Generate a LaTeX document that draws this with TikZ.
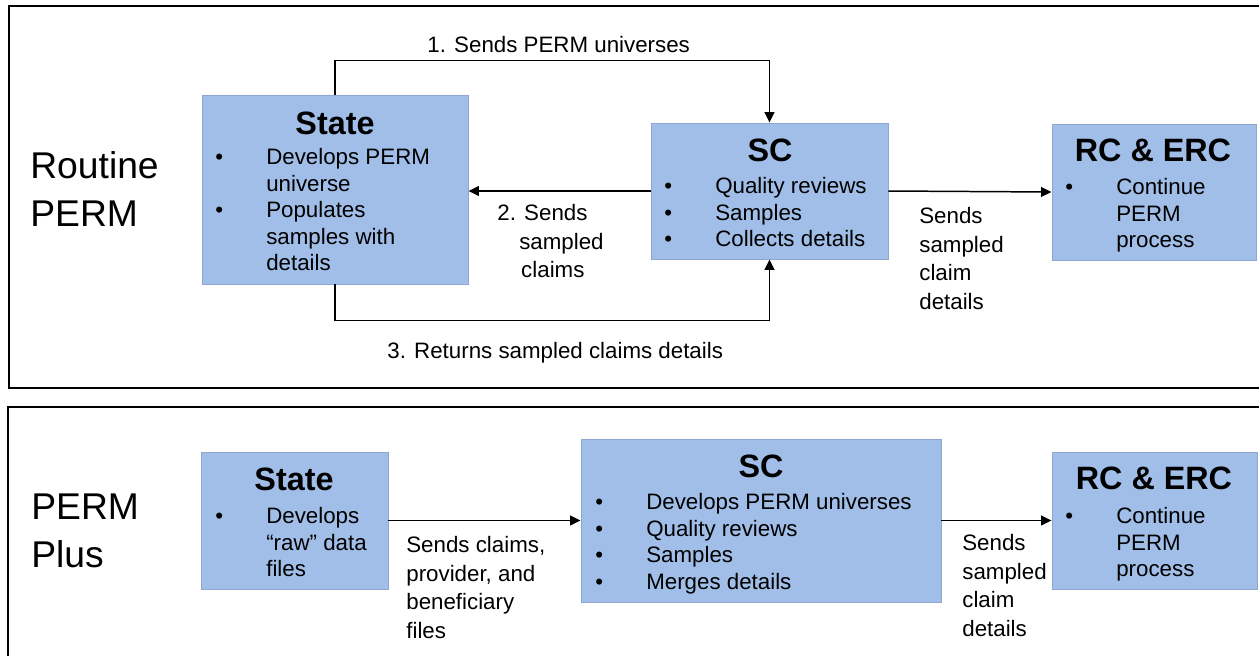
\documentclass[tikz,border=0pt]{standalone}
\usepackage{fontspec}
\setmainfont{Liberation Sans}
\usetikzlibrary{arrows.meta}
\usetikzlibrary{positioning}
\definecolor{boxblue}{RGB}{161,190,232}
\definecolor{boxedge}{RGB}{143,167,207}
\newcommand{\bul}{\makebox[29pt][l]{\textbullet}}
\newcommand{\ind}{\hspace*{29pt}}
\tikzset{
  box/.style={draw=boxedge, line width=0.5pt, fill=boxblue, inner sep=0pt},
  boxtitle/.style={anchor=north, inner sep=0pt, font=\fontsize{18.4pt}{22pt}\selectfont\bfseries},
  boxlist/.style={anchor=north west, inner sep=0pt, align=left, font=\fontsize{12.7pt}{15.1pt}\selectfont},
  flowlabel/.style={anchor=north west, inner sep=0pt, align=left, font=\fontsize{12.7pt}{16.3pt}\selectfont},
  section/.style={anchor=north west, inner sep=0pt, align=left, font=\fontsize{21.2pt}{27.2pt}\selectfont},
  arr/.style={line width=0.85pt, -{Triangle[length=6pt,width=5.6pt]}},
  frame/.style={line width=1.1pt}
}
\begin{document}
\begin{tikzpicture}[x=0.02cm, y=-0.02cm]
		\useasboundingbox (0,0) rectangle (1259,656);
		% outer frames
		\draw [frame] (1259,6) -- (9,6) -- (9,388) -- (1259,388);
		\draw [frame] (1259,407) -- (8,407) -- (8,656);
		
		% Routine PERM
		\node [section] (routine) at (30,151) {Routine\\PERM};
		
		\node [box, minimum width=266*0.02cm, minimum height=189*0.02cm] (state1) at (335,189.5) {};
		\node [boxtitle] (state1t) at (335,112) {State};
		\node [boxlist] (state1l) at (215,148) {\bul Develops PERM\\\ind universe\\\bul Populates\\\ind samples with\\\ind details};
		
		\node [box, minimum width=237*0.02cm, minimum height=136*0.02cm] (sc1) at (769.5,191) {};
		\node [boxtitle] (sc1t) at (770,139) {SC};
		\node [boxlist] (sc1l) at (664,177) {\bul Quality reviews\\\bul Samples\\\bul Collects details};
		
		\node [box, minimum width=204*0.02cm, minimum height=136*0.02cm] (rc1) at (1154,192) {};
		\node [boxtitle] (rc1t) at (1153,139) {RC \& ERC};
		\node [boxlist] (rc1l) at (1065,178) {\bul Continue\\\ind PERM\\\ind process};
		
		\draw [arr] (state1.north) -- ++(0,-34) -| (sc1.north);
		\node [flowlabel] (lab1) at (427,36) {1. Sends PERM universes};
		\draw [arr] (sc1.west) -- (sc1.west -| state1.east);
		\node [flowlabel] (lab2) at (497,204) {2. Sends\\\hspace*{12.5pt}sampled\\\hspace*{13.6pt}claims};
		\draw [arr] (state1.south) -- ++(0,36) -| (sc1.south);
		\node [flowlabel] (lab3) at (387,342) {3. Returns sampled claims details};
		\draw [arr] (sc1.east) -- (rc1.west);
		\node [flowlabel] (lab4) at (919,207) {Sends\\sampled\\claim\\details};
		
		% PERM Plus
		\node [section] (plus) at (31,494) {PERM\\Plus};
		
		\node [box, minimum width=187*0.02cm, minimum height=137*0.02cm] (state2) at (294.5,520.5) {};
		\node [boxtitle] (state2t) at (294,468) {State};
		\node [boxlist] (state2l) at (215,507) {\bul Develops\\\ind ``raw'' data\\\ind files};
		
		\node [box, minimum width=360*0.02cm, minimum height=163*0.02cm] (sc2) at (761,520.5) {};
		\node [boxtitle] (sc2t) at (761,455) {SC};
		\node [boxlist] (sc2l) at (595,493) {\bul Develops PERM universes\\\bul Quality reviews\\\bul Samples\\\bul Merges details};
		
		\node [box, minimum width=205*0.02cm, minimum height=137*0.02cm] (rc2) at (1154.5,520.5) {};
		\node [boxtitle] (rc2t) at (1154,467) {RC \& ERC};
		\node [boxlist] (rc2l) at (1065,507) {\bul Continue\\\ind PERM\\\ind process};
		
		\draw [arr] (state2.east) -- (sc2.west);
		\node [flowlabel] (lab5) at (406,536) {Sends claims,\\provider, and\\beneficiary\\files};
		\draw [arr] (sc2.east) -- (rc2.west);
		\node [flowlabel] (lab6) at (962,534) {Sends\\sampled\\claim\\details};
	\end{tikzpicture}
\end{document}
